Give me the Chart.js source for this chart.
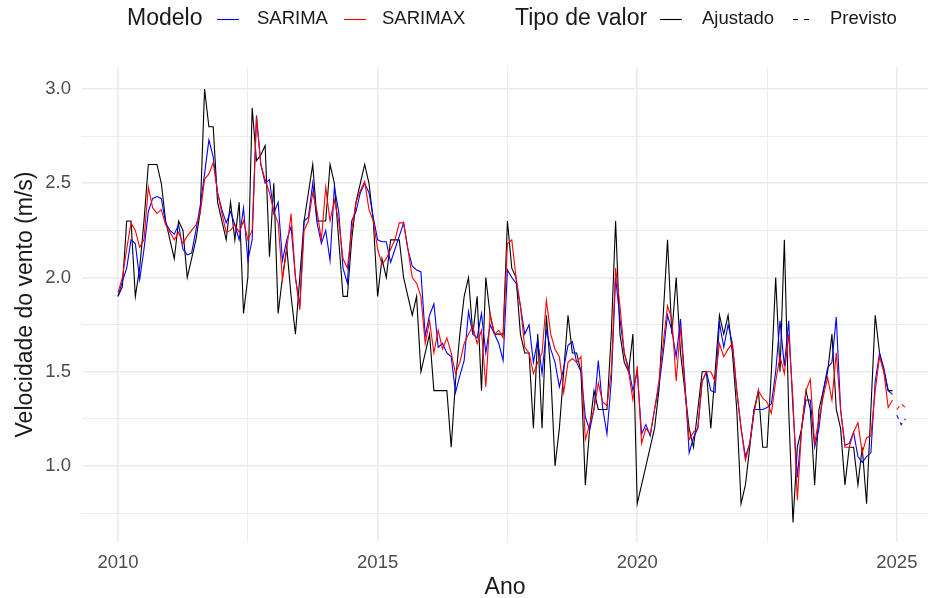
<!DOCTYPE html>
<html lang="pt">
<head>
<meta charset="utf-8">
<title>Velocidade do vento</title>
<script src="https://cdn.jsdelivr.net/npm/chart.js@4.4.1/dist/chart.umd.min.js"></script>
<style>
  html, body { margin: 0; padding: 0; background: #fff; }
  #grafico { display: block; }
</style>
</head>
<body>
<canvas id="grafico" width="936" height="598"></canvas>
<script>
// série mensal jan/2010 - dez/2024, previsão jan-mar/2025
const anoInicio = 2010;
const ticksAno = [2010, 2015, 2020, 2025];

const observado = [
  1.90,1.95,2.30,2.30,1.90,2.05,2.30,2.60,2.60,2.60,2.50,2.30,
  2.20,2.10,2.30,2.25,2.00,2.10,2.20,2.35,3.00,2.80,2.80,2.40,
  2.30,2.20,2.40,2.20,2.40,1.81,2.00,2.90,2.62,2.65,2.70,2.11,
  2.50,1.81,2.00,2.16,1.90,1.70,2.00,2.30,2.45,2.60,2.30,2.30,
  2.30,2.60,2.50,2.20,1.90,1.90,2.20,2.40,2.50,2.60,2.50,2.30,
  1.90,2.10,2.00,2.20,2.20,2.20,2.00,1.90,1.80,1.90,1.50,1.60,
  1.70,1.40,1.40,1.40,1.40,1.10,1.45,1.70,1.90,2.00,1.70,1.90,
  1.40,2.00,1.80,1.70,1.70,1.70,2.30,2.05,2.00,1.70,1.60,1.60,
  1.20,1.70,1.20,1.80,1.50,1.00,1.20,1.50,1.80,1.60,1.60,1.50,
  0.90,1.20,1.40,1.30,1.30,1.30,1.70,2.30,1.70,1.55,1.50,1.70,
  0.80,0.90,1.00,1.10,1.20,1.40,1.80,2.20,1.70,2.00,1.60,1.40,
  1.20,1.10,1.30,1.50,1.50,1.20,1.50,1.80,1.70,1.80,1.60,1.30,
  0.80,0.90,1.10,1.30,1.40,1.10,1.10,1.50,2.00,1.50,2.20,1.30,
  0.70,1.10,1.20,1.40,1.30,0.90,1.30,1.40,1.50,1.70,1.30,1.20,
  0.90,1.10,1.10,0.90,1.10,0.80,1.30,1.80,1.60,1.50,1.40,1.40
];

const sarima = [
  1.90,1.98,2.05,2.20,2.18,1.99,2.15,2.35,2.42,2.43,2.42,2.29,
  2.25,2.23,2.28,2.15,2.12,2.13,2.25,2.38,2.55,2.73,2.64,2.45,
  2.36,2.29,2.35,2.28,2.20,2.37,2.09,2.20,2.86,2.60,2.50,2.52,
  2.34,2.40,2.09,2.20,2.27,2.00,1.85,2.30,2.32,2.50,2.29,2.18,
  2.25,2.09,2.48,2.35,2.05,1.97,2.30,2.35,2.45,2.50,2.45,2.32,
  2.20,2.19,2.19,2.08,2.15,2.22,2.29,2.15,2.06,2.04,2.03,1.69,
  1.80,1.86,1.63,1.65,1.60,1.58,1.39,1.48,1.56,1.82,1.70,1.68,
  1.81,1.60,1.75,1.70,1.65,1.56,2.04,2.00,1.97,1.85,1.70,1.75,
  1.55,1.67,1.49,1.72,1.62,1.55,1.42,1.52,1.64,1.66,1.55,1.50,
  1.26,1.19,1.30,1.56,1.31,1.17,1.45,2.00,1.78,1.60,1.52,1.40,
  1.50,1.17,1.22,1.16,1.30,1.42,1.60,1.80,1.72,1.58,1.78,1.45,
  1.07,1.15,1.20,1.45,1.50,1.40,1.39,1.76,1.63,1.75,1.65,1.40,
  1.20,1.05,1.12,1.30,1.30,1.30,1.31,1.33,1.50,1.77,1.53,1.77,
  1.30,0.94,1.20,1.35,1.35,1.10,1.20,1.40,1.52,1.55,1.79,1.30,
  1.11,1.12,1.18,1.05,1.02,1.05,1.07,1.45,1.60,1.52,1.40,1.38
];

const sarimax = [
  1.92,2.00,2.15,2.29,2.25,2.16,2.20,2.48,2.37,2.34,2.36,2.28,
  2.24,2.20,2.24,2.18,2.22,2.25,2.28,2.34,2.52,2.55,2.61,2.45,
  2.34,2.24,2.25,2.28,2.24,2.30,2.20,2.25,2.85,2.60,2.52,2.45,
  2.35,2.29,1.99,2.15,2.34,2.00,1.83,2.25,2.30,2.45,2.35,2.20,
  2.48,2.30,2.41,2.30,2.10,2.05,2.25,2.40,2.46,2.51,2.36,2.30,
  2.15,2.07,2.10,2.15,2.20,2.29,2.29,2.15,2.00,1.97,1.90,1.65,
  1.77,1.60,1.72,1.62,1.68,1.60,1.49,1.55,1.65,1.70,1.74,1.65,
  1.72,1.42,1.81,1.70,1.72,1.68,2.18,2.20,2.00,1.85,1.63,1.60,
  1.49,1.55,1.60,1.88,1.70,1.62,1.58,1.39,1.55,1.57,1.55,1.58,
  1.14,1.22,1.30,1.44,1.34,1.32,1.50,2.05,1.85,1.60,1.50,1.35,
  1.53,1.12,1.20,1.17,1.30,1.45,1.65,1.85,1.78,1.45,1.74,1.42,
  1.14,1.18,1.20,1.45,1.50,1.50,1.45,1.65,1.58,1.62,1.65,1.40,
  1.20,1.03,1.12,1.28,1.40,1.36,1.34,1.28,1.45,1.58,1.49,1.70,
  1.35,0.82,1.20,1.40,1.46,1.12,1.25,1.37,1.47,1.35,1.60,1.30,
  1.10,1.10,1.18,1.23,1.07,1.15,1.16,1.40,1.58,1.50,1.31,1.35
];

// previsão (jan-mar 2025)
const prevSarima = [1.27, 1.22, 1.25];
const prevSarimax = [1.30, 1.33, 1.31];

const fonte = '"Liberation Sans", Arial, Helvetica, sans-serif';
const corTexto = '#1a1a1a';
const corTicks = '#4d4d4d';
const corGrade = '#ebebeb';

// mês -> ano decimal
function serie(valores, inicio) {
  return valores.map(function(v, i) {
    return { x: anoInicio + (inicio + i) / 12, y: v };
  });
}

function ehInteiro(v) {
  return Math.abs(v - Math.round(v)) < 1e-6;
}

// legenda no topo e títulos dos eixos
const extras = {
  id: 'extras',
  afterDraw: function(chart) {
    const ctx = chart.ctx;
    const area = chart.chartArea;
    ctx.save();
    ctx.textBaseline = 'middle';
    ctx.fillStyle = corTexto;

    const yL = 19;
    ctx.font = '23px ' + fonte;
    ctx.textAlign = 'left';
    ctx.fillText('Modelo', 127, yL);
    ctx.fillText('Tipo de valor', 515, yL);

    ctx.font = '18.5px ' + fonte;
    ctx.fillText('SARIMA', 257, yL);
    ctx.fillText('SARIMAX', 382, yL);
    ctx.fillText('Ajustado', 702, yL);
    ctx.fillText('Previsto', 830, yL);

    const chaves = [
      { cx: 228, cor: 'blue', dash: [] },
      { cx: 355, cor: 'red', dash: [] },
      { cx: 671, cor: 'black', dash: [] },
      { cx: 804, cor: 'black', dash: [5, 6] }
    ];
    chaves.forEach(function(k) {
      ctx.beginPath();
      ctx.setLineDash(k.dash);
      ctx.strokeStyle = k.cor;
      ctx.lineWidth = 1.1;
      ctx.moveTo(k.cx - 11, yL + 0.5);
      ctx.lineTo(k.cx + 11, yL + 0.5);
      ctx.stroke();
    });
    ctx.setLineDash([]);

    ctx.font = '23px ' + fonte;
    ctx.textAlign = 'center';
    ctx.fillText('Ano', (area.left + area.right) / 2, 588);

    ctx.translate(26, (area.top + area.bottom) / 2);
    ctx.rotate(-Math.PI / 2);
    ctx.fillText('Velocidade do vento (m/s)', 0, 0);
    ctx.restore();
  }
};

const dados = {
  datasets: [
    {
      label: 'SARIMAX',
      data: serie(sarimax, 0),
      borderColor: 'red',
      order: 1
    },
    {
      label: 'SARIMAX previsto',
      data: serie(prevSarimax, 180),
      borderColor: 'red',
      borderDash: [4, 4],
      order: 1
    },
    {
      label: 'SARIMA',
      data: serie(sarima, 0),
      borderColor: 'blue',
      order: 2
    },
    {
      label: 'SARIMA previsto',
      data: serie(prevSarima, 180),
      borderColor: 'blue',
      borderDash: [4, 4],
      order: 2
    },
    {
      label: 'Observado',
      data: serie(observado, 0),
      borderColor: 'black',
      order: 3
    }
  ]
};

const config = {
  type: 'line',
  data: dados,
  options: {
    responsive: false,
    animation: false,
    devicePixelRatio: 1,
    layout: { padding: { top: 67, right: 8, bottom: 0, left: 0 } },
    elements: {
      point: { radius: 0 },
      line: { borderWidth: 1.1, tension: 0, fill: false }
    },
    plugins: {
      legend: { display: false },
      tooltip: { enabled: false }
    },
    scales: {
      x: {
        type: 'linear',
        min: 2009.306,
        max: 2025.6,
        afterFit: function(scale) { scale.height = 56; },
        border: { display: false },
        grid: {
          drawTicks: false,
          color: corGrade,
          lineWidth: function(c) { return c.tick && ehInteiro(c.tick.value / 5) ? 1.6 : 0.9; }
        },
        ticks: {
          stepSize: 2.5,
          includeBounds: false,
          autoSkip: false,
          maxRotation: 0,
          padding: 10,
          color: corTicks,
          font: { family: fonte, size: 18.5 },
          callback: function(v) { return ticksAno.indexOf(v) >= 0 ? String(v) : ''; }
        }
      },
      y: {
        min: 0.597,
        max: 3.117,
        afterFit: function(scale) { scale.width = 82; },
        border: { display: false },
        grid: {
          drawTicks: false,
          color: corGrade,
          lineWidth: function(c) { return c.tick && ehInteiro(c.tick.value * 2) ? 1.6 : 0.9; }
        },
        ticks: {
          stepSize: 0.25,
          includeBounds: false,
          padding: 11,
          color: corTicks,
          font: { family: fonte, size: 18.5 },
          callback: function(v) { return ehInteiro(v * 2) ? v.toFixed(1) : ''; }
        }
      }
    }
  },
  plugins: [extras]
};

const grafico = new Chart(document.getElementById('grafico'), config);
</script>
</body>
</html>
